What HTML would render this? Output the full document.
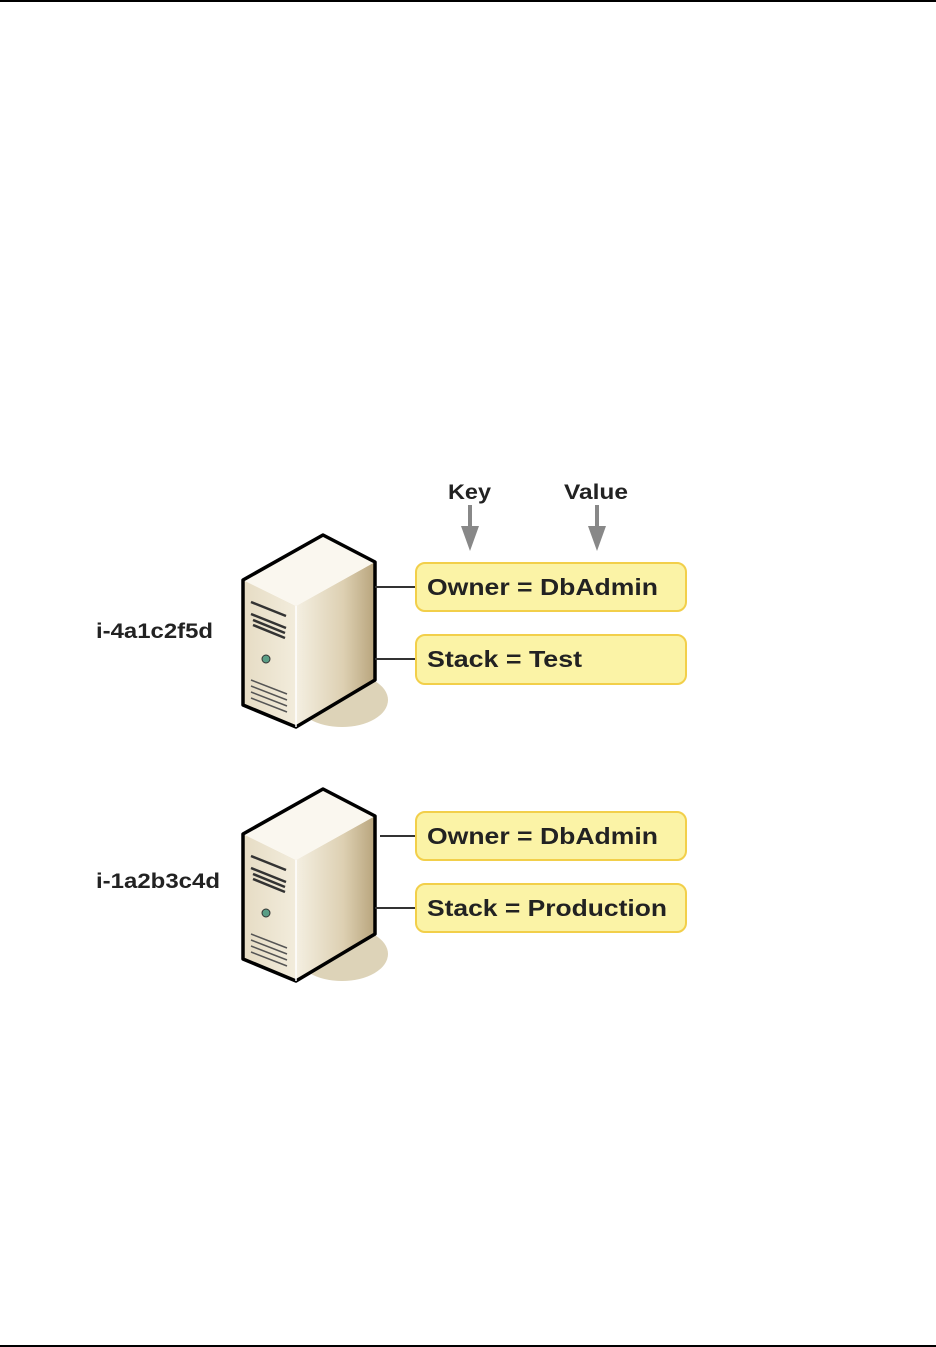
<!DOCTYPE html>
<html><head><meta charset="utf-8"><style>
html,body{margin:0;padding:0;background:#fff;width:936px;height:1347px;overflow:hidden}
svg{display:block}
text{font-family:"Liberation Sans",Arial,sans-serif;font-weight:bold;fill:#222}
</style></head><body>
<svg width="936" height="1347" viewBox="0 0 936 1347">
<defs>
<linearGradient id="fr" x1="0" y1="0" x2="1" y2="0">
<stop offset="0" stop-color="#e6dcc4"/><stop offset="1" stop-color="#f2ecdc"/></linearGradient>
<linearGradient id="rs" x1="0" y1="0" x2="1" y2="0">
<stop offset="0" stop-color="#f4efe2"/><stop offset="0.6" stop-color="#ddd0b2"/><stop offset="1" stop-color="#b8a47c"/></linearGradient>
<g id="srv">
<ellipse cx="342" cy="700" rx="46" ry="27" fill="#ddd3b8"/>
<polygon points="243,580 296,606 296,727 243,705" fill="url(#fr)"/>
<polygon points="296,606 375,562 375,680 296,727" fill="url(#rs)"/>
<polygon points="323,535 375,562 296,606 243,580" fill="#faf7ef"/>
<polygon points="323,535 375,562 375,680 296,727 243,705 243,580" fill="none" stroke="#000" stroke-width="3.5" stroke-linejoin="round"/>
<line x1="296" y1="606" x2="296" y2="727" stroke="#fff" stroke-width="1.5"/>
<path d="M251 602 l35 14 M251 614 l35 14 M253 620 l32 13 M253 625 l32 13" stroke="#333" stroke-width="2.5"/>
<circle cx="266" cy="659" r="4" fill="#5a9e86" stroke="#333" stroke-width="1"/>
<path d="M251 680 l36 14 M251 686 l36 14 M251 692 l36 14 M251 698 l36 14" stroke="#555" stroke-width="1.5"/>
</g>
</defs>
<line x1="0" y1="1" x2="936" y2="1" stroke="#000" stroke-width="2"/>
<line x1="0" y1="1346" x2="936" y2="1346" stroke="#000" stroke-width="2"/>

<text x="448" y="499" font-size="21" textLength="43" lengthAdjust="spacingAndGlyphs">Key</text>
<text x="564" y="499" font-size="21" textLength="64" lengthAdjust="spacingAndGlyphs">Value</text>
<g fill="#888">
<rect x="468" y="505" width="4" height="22"/><polygon points="461,526 479,526 470,551"/>
<rect x="595" y="505" width="4" height="22"/><polygon points="588,526 606,526 597,551"/>
</g>

<use href="#srv"/>
<use href="#srv" transform="translate(0,254)"/>

<text x="96" y="638" font-size="21" textLength="117" lengthAdjust="spacingAndGlyphs">i-4a1c2f5d</text>
<text x="96" y="888" font-size="21" textLength="124" lengthAdjust="spacingAndGlyphs">i-1a2b3c4d</text>

<g stroke="#333" stroke-width="2">
<line x1="375" y1="587" x2="416" y2="587"/>
<line x1="375" y1="659" x2="416" y2="659"/>
<line x1="380" y1="836" x2="416" y2="836"/>
<line x1="375" y1="908" x2="416" y2="908"/>
</g>
<g fill="#fbf3a6" stroke="#f2cf4a" stroke-width="2">
<rect x="416" y="563" width="270" height="48" rx="9"/>
<rect x="416" y="635" width="270" height="49" rx="9"/>
<rect x="416" y="812" width="270" height="48" rx="9"/>
<rect x="416" y="884" width="270" height="48" rx="9"/>
</g>
<g font-size="23">
<text x="427" y="595" textLength="231" lengthAdjust="spacingAndGlyphs">Owner = DbAdmin</text>
<text x="427" y="667" textLength="155" lengthAdjust="spacingAndGlyphs">Stack = Test</text>
<text x="427" y="844" textLength="231" lengthAdjust="spacingAndGlyphs">Owner = DbAdmin</text>
<text x="427" y="916" textLength="240" lengthAdjust="spacingAndGlyphs">Stack = Production</text>
</g>
</svg>
</body></html>
